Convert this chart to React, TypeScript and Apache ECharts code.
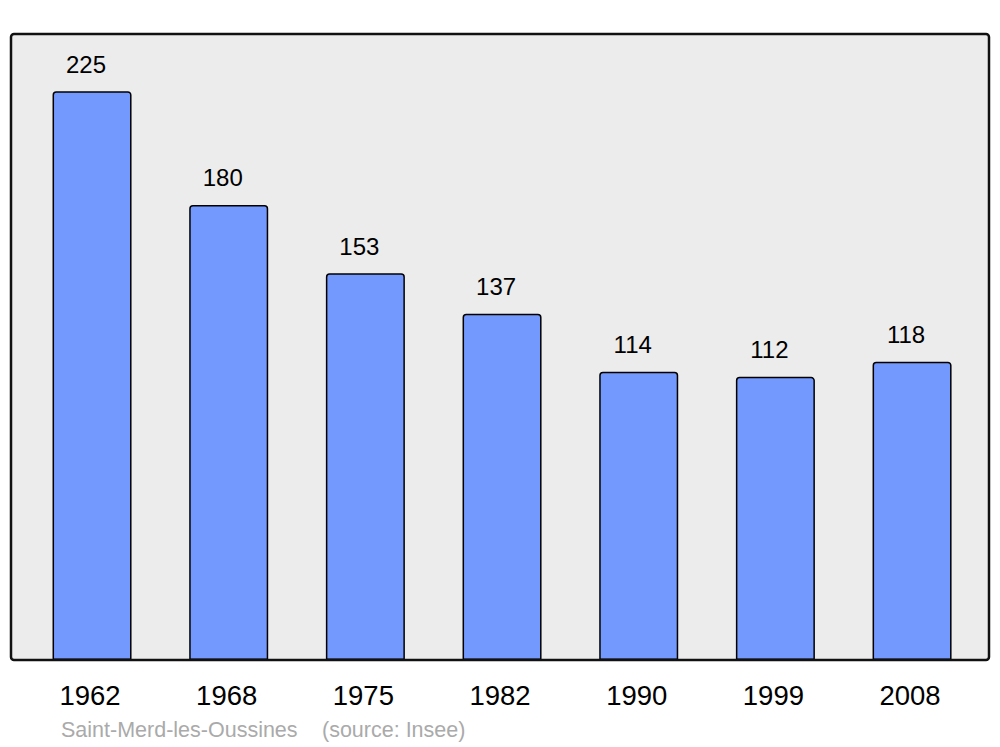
import React, { useEffect, useRef } from "react";
import * as echarts from "echarts";

const years = ["1962", "1968", "1975", "1982", "1990", "1999", "2008"];
const population = [225, 180, 153, 137, 114, 112, 118];
const footerName = "Saint-Merd-les-Oussines";
const footerSource = "(source: Insee)";

export default function App() {
  const ref = useRef<HTMLDivElement>(null);
  useEffect(() => {
    if (!ref.current) return;
    const chart = echarts.init(ref.current, null, { renderer: "svg" });
    chart.setOption({
      animation: false,
      backgroundColor: "#ffffff",
      grid: { left: 23.7, top: 34, width: 956.7, height: 626, containLabel: false },
      xAxis: {
        type: "category",
        data: years,
        axisLine: { show: false },
        axisTick: { show: false },
        axisLabel: {
          color: "#000",
          fontSize: 27.5,
          fontFamily: "Liberation Sans, Arial, sans-serif",
          margin: 21.5,
          padding: [0, 4, 0, 0],
        },
      },
      yAxis: {
        type: "value",
        min: 0,
        max: 247.6,
        show: false,
        splitLine: { show: false },
      },
      graphic: [
        {
          type: "rect",
          z: -10,
          shape: { x: 11, y: 34, width: 978, height: 626, r: 3 },
          style: { fill: "#ececec", stroke: "none" },
        },
        {
          type: "rect",
          z: 100,
          shape: { x: 11, y: 34, width: 978, height: 626, r: 3 },
          style: { fill: "none", stroke: "#111", lineWidth: 2.5 },
        },
        {
          type: "text",
          x: 61,
          y: 730,
          style: {
            text: footerName,
            fill: "#aaaaaa",
            fontSize: 21.5,
            fontFamily: "Liberation Sans, Arial, sans-serif",
            verticalAlign: "middle",
          },
        },
        {
          type: "text",
          x: 322,
          y: 730,
          style: {
            text: footerSource,
            fill: "#aaaaaa",
            fontSize: 21.5,
            fontFamily: "Liberation Sans, Arial, sans-serif",
            verticalAlign: "middle",
          },
        },
      ],
      series: [
        {
          type: "bar",
          data: population,
          barWidth: 79,
          itemStyle: {
            color: "#7399ff",
            borderColor: "#000",
            borderWidth: 1.5,
            borderRadius: [3, 3, 0, 0],
          },
          label: {
            show: true,
            position: "top",
            distance: 15,
            offset: [-6, 0],
            color: "#000",
            fontSize: 24,
            fontFamily: "Liberation Sans, Arial, sans-serif",
          },
        },
      ],
    });
    return () => chart.dispose();
  }, []);
  return (
    <div
      ref={ref}
      style={{ position: "absolute", left: 0, top: 0, width: 1000, height: 747 }}
    />
  );
}
